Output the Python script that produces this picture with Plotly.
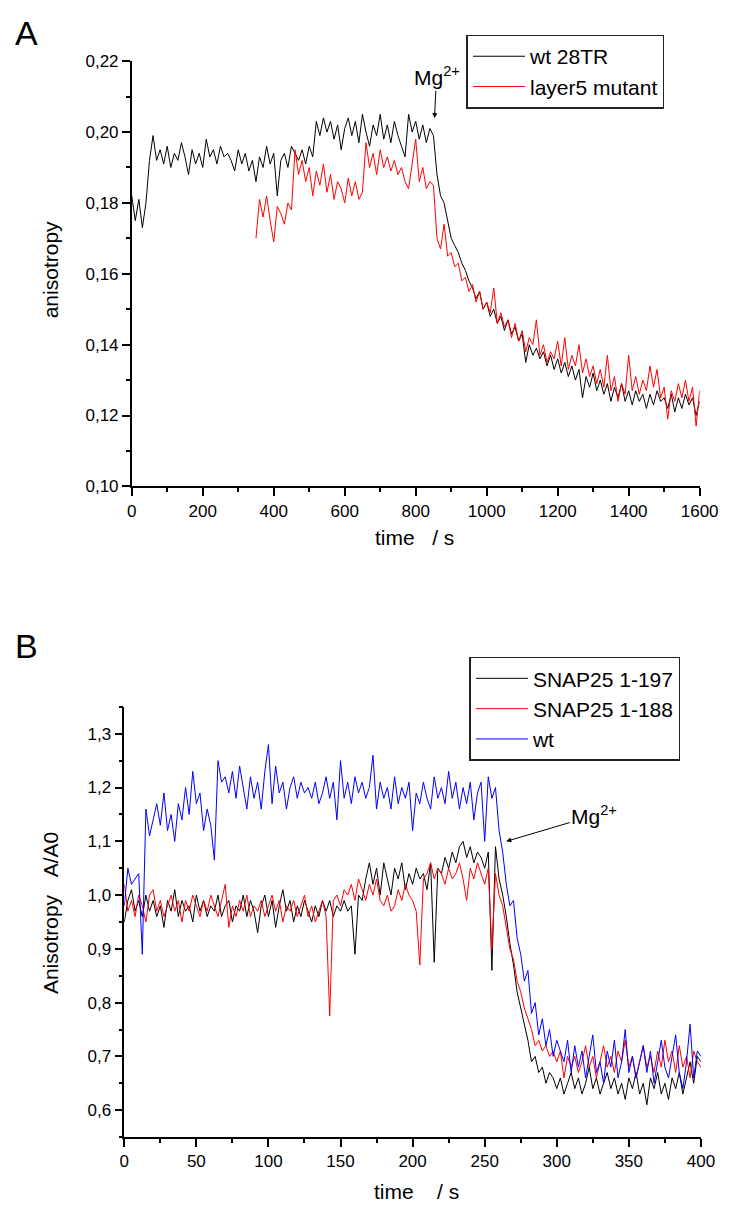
import plotly.graph_objects as go

# ---------------- Panel A data ----------------
a_wt_start = 0
a_wt_step = 10
a_wt = [0.182, 0.175, 0.181, 0.173, 0.180, 0.192, 0.199, 0.192, 0.195, 0.191,
        0.196, 0.190, 0.194, 0.192, 0.197, 0.193, 0.188, 0.195, 0.191, 0.194,
        0.190, 0.198, 0.193, 0.195, 0.191, 0.196, 0.193, 0.194, 0.192, 0.189,
        0.195, 0.191, 0.194, 0.189, 0.192, 0.186, 0.193, 0.190, 0.196, 0.191,
        0.194, 0.182, 0.192, 0.194, 0.190, 0.196, 0.194, 0.192, 0.195, 0.191,
        0.196, 0.193, 0.203, 0.199, 0.204, 0.200, 0.203, 0.198, 0.202, 0.195,
        0.201, 0.204, 0.199, 0.203, 0.197, 0.205, 0.200, 0.196, 0.202, 0.199,
        0.205, 0.198, 0.202, 0.197, 0.203, 0.199, 0.196, 0.193, 0.205, 0.200,
        0.203, 0.198, 0.202, 0.197, 0.201, 0.199, 0.188, 0.182, 0.180, 0.175,
        0.170, 0.168, 0.166, 0.163, 0.161, 0.158, 0.156, 0.153, 0.155, 0.150,
        0.152, 0.148, 0.150, 0.146, 0.148, 0.144, 0.147, 0.143, 0.145, 0.141,
        0.143, 0.135, 0.140, 0.137, 0.139, 0.136, 0.138, 0.134, 0.137, 0.133,
        0.136, 0.132, 0.135, 0.131, 0.134, 0.130, 0.133, 0.125, 0.131, 0.128,
        0.132, 0.127, 0.130, 0.126, 0.129, 0.124, 0.128, 0.125, 0.129, 0.124,
        0.127, 0.123, 0.127, 0.124, 0.126, 0.122, 0.126, 0.123, 0.127, 0.124,
        0.125, 0.122, 0.126, 0.121, 0.125, 0.122, 0.126, 0.123, 0.125, 0.120,
        0.124]

a_mut_start = 350
a_mut_step = 10
a_mut = [0.170, 0.181, 0.176, 0.182, 0.175, 0.169, 0.179, 0.177, 0.174, 0.180,
         0.178, 0.195, 0.188, 0.192, 0.186, 0.190, 0.182, 0.189, 0.185, 0.191,
         0.183, 0.188, 0.181, 0.186, 0.184, 0.180, 0.187, 0.182, 0.186, 0.181,
         0.183, 0.197, 0.190, 0.194, 0.188, 0.195, 0.190, 0.193, 0.189, 0.192,
         0.188, 0.190, 0.186, 0.184, 0.191, 0.198, 0.186, 0.190, 0.184, 0.186,
         0.185, 0.170, 0.167, 0.174, 0.165, 0.166, 0.162, 0.163, 0.158, 0.159,
         0.155, 0.157, 0.152, 0.155, 0.150, 0.152, 0.149, 0.156, 0.146, 0.149,
         0.145, 0.147, 0.142, 0.146, 0.141, 0.144, 0.138, 0.142, 0.140, 0.147,
         0.137, 0.140, 0.135, 0.138, 0.136, 0.141, 0.134, 0.142, 0.133, 0.137,
         0.134, 0.140, 0.132, 0.136, 0.131, 0.134, 0.129, 0.133, 0.128, 0.137,
         0.127, 0.131, 0.124, 0.129, 0.126, 0.137, 0.127, 0.131, 0.126, 0.130,
         0.127, 0.134, 0.128, 0.133, 0.125, 0.128, 0.119, 0.127, 0.124, 0.129,
         0.125, 0.130, 0.124, 0.128, 0.117, 0.127]

# ---------------- Panel B data ----------------
b_step = 2.5
b_197 = [0.95, 0.99, 1.01, 0.97, 0.99, 0.96, 1.00, 0.97, 0.99, 0.96,
         0.98, 0.94, 0.99, 0.97, 1.01, 0.96, 0.99, 0.97, 0.98, 0.95,
         1.00, 0.97, 0.99, 0.96, 0.98, 0.97, 1.00, 0.96, 0.98, 0.99,
         0.95, 0.98, 0.97, 1.00, 0.96, 0.99, 0.97, 0.93, 0.98, 1.00,
         0.96, 0.99, 0.94, 0.98, 1.01, 0.97, 0.99, 0.95, 0.98, 0.96,
         0.99, 0.97, 0.95, 0.98, 0.96, 0.99, 0.97, 0.99, 0.96, 0.98,
         0.97, 0.99, 0.97, 0.98, 0.89, 1.00, 0.99, 1.03, 1.06, 1.02,
         1.05, 1.00, 1.06, 1.03, 1.00, 1.05, 1.03, 1.06, 1.01, 1.04,
         1.02, 1.05, 1.03, 1.04, 1.01, 1.06, 0.875, 1.05, 1.04, 1.07,
         1.05, 1.08, 1.06, 1.09, 1.10, 1.07, 1.09, 1.06, 1.08, 1.07,
         1.05, 1.08, 0.86, 1.09, 1.03, 1.00, 0.96, 0.91, 0.87, 0.82,
         0.79, 0.76, 0.73, 0.69, 0.70, 0.67, 0.68, 0.65, 0.67, 0.66,
         0.64, 0.66, 0.63, 0.65, 0.67, 0.64, 0.66, 0.63, 0.65, 0.68,
         0.64, 0.66, 0.63, 0.65, 0.67, 0.64, 0.66, 0.63, 0.65, 0.62,
         0.66, 0.64, 0.67, 0.63, 0.65, 0.61, 0.66, 0.64, 0.67, 0.63,
         0.65, 0.62, 0.66, 0.64, 0.67, 0.63, 0.66, 0.69, 0.65, 0.70,
         0.69]
b_188 = [1.02, 0.97, 0.99, 0.96, 1.00, 0.98, 0.95, 1.00, 1.01, 0.97,
         0.99, 0.96, 0.98, 1.00, 0.97, 0.99, 0.95, 0.99, 0.97, 1.00,
         0.98, 0.96, 0.99, 0.97, 1.00, 0.98, 0.96, 0.99, 1.02, 0.94,
         0.98, 0.96, 0.99, 0.97, 1.00, 0.96, 0.98, 0.97, 0.99, 0.96,
         0.98, 1.00, 0.97, 0.99, 0.95, 0.98, 0.97, 0.99, 0.96, 0.98,
         1.00, 0.96, 0.98, 0.95, 0.97, 0.99, 0.96, 0.775, 0.99, 1.00,
         0.98, 1.01, 1.00, 1.02, 0.99, 1.03, 1.01, 0.99, 1.02, 1.00,
         1.03, 0.99, 0.98, 1.00, 0.97, 0.98, 1.01, 0.99, 1.02, 1.00,
         0.99, 0.97, 0.87, 1.03, 1.04, 1.06, 1.03, 1.05, 1.04, 1.02,
         1.05, 1.03, 1.04, 1.06, 1.03, 0.99, 1.05, 1.03, 1.06, 1.04,
         1.02, 1.05, 0.90, 1.04, 1.00, 0.98, 0.94, 0.90, 0.88, 0.84,
         0.82, 0.79, 0.77, 0.75, 0.72, 0.73, 0.71, 0.72, 0.70, 0.71,
         0.69, 0.71, 0.66, 0.70, 0.68, 0.70, 0.67, 0.69, 0.72, 0.68,
         0.70, 0.66, 0.69, 0.72, 0.68, 0.70, 0.67, 0.71, 0.69, 0.73,
         0.68, 0.70, 0.66, 0.69, 0.72, 0.68, 0.70, 0.67, 0.71, 0.68,
         0.73, 0.69, 0.71, 0.67, 0.72, 0.68, 0.70, 0.66, 0.71, 0.69,
         0.68]
b_wt = [0.98, 1.05, 1.02, 1.03, 1.04, 0.89, 1.16, 1.11, 1.14, 1.17,
        1.13, 1.19, 1.12, 1.15, 1.10, 1.17, 1.14, 1.20, 1.15, 1.23,
        1.17, 1.19, 1.12, 1.16, 1.13, 1.065, 1.25, 1.21, 1.22, 1.19,
        1.23, 1.18, 1.24, 1.20, 1.16, 1.22, 1.18, 1.21, 1.16, 1.23,
        1.28, 1.17, 1.24, 1.19, 1.21, 1.16, 1.20, 1.22, 1.18, 1.21,
        1.19, 1.20, 1.18, 1.21, 1.17, 1.19, 1.22, 1.18, 1.21, 1.14,
        1.25, 1.18, 1.21, 1.17, 1.22, 1.19, 1.21, 1.18, 1.20, 1.26,
        1.16, 1.21, 1.18, 1.20, 1.16, 1.22, 1.17, 1.20, 1.18, 1.21,
        1.12, 1.19, 1.17, 1.21, 1.18, 1.16, 1.22, 1.18, 1.20, 1.17,
        1.23, 1.18, 1.21, 1.16, 1.20, 1.17, 1.21, 1.14, 1.19, 1.21,
        1.10, 1.22, 1.18, 1.20, 1.12, 1.08, 1.02, 0.98, 0.99, 0.92,
        0.89, 0.84, 0.86, 0.78, 0.80, 0.74, 0.77, 0.72, 0.75, 0.70,
        0.73, 0.71, 0.69, 0.73, 0.67, 0.72, 0.68, 0.71, 0.66, 0.70,
        0.74, 0.67, 0.69, 0.65, 0.71, 0.68, 0.73, 0.66, 0.69, 0.75,
        0.67, 0.70, 0.66, 0.69, 0.72, 0.67, 0.71, 0.65, 0.69, 0.73,
        0.68, 0.66, 0.70, 0.74, 0.67, 0.64, 0.69, 0.76, 0.66, 0.71,
        0.70]

a_x = [a_wt_start + a_wt_step * i for i in range(len(a_wt))]
a_mx = [a_mut_start + a_mut_step * i for i in range(len(a_mut))]
b_x197 = [b_step * i for i in range(len(b_197))]
b_x188 = [b_step * i for i in range(len(b_188))]
b_xwt = [b_step * i for i in range(len(b_wt))]

FONT = "Arial, Liberation Sans, sans-serif"
W, H = 738, 1213

fig = go.Figure()
fig.add_trace(go.Scatter(x=a_x, y=a_wt, mode="lines", name="wt 28TR",
                         line=dict(color="black", width=1), xaxis="x", yaxis="y", legend="legend"))
fig.add_trace(go.Scatter(x=a_mx, y=a_mut, mode="lines", name="layer5 mutant",
                         line=dict(color="#ff0000", width=1), xaxis="x", yaxis="y", legend="legend"))
fig.add_trace(go.Scatter(x=b_x197, y=b_197, mode="lines", name="SNAP25 1-197",
                         line=dict(color="black", width=1), xaxis="x2", yaxis="y2", legend="legend2"))
fig.add_trace(go.Scatter(x=b_x188, y=b_188, mode="lines", name="SNAP25 1-188",
                         line=dict(color="#ff0000", width=1), xaxis="x2", yaxis="y2", legend="legend2"))
fig.add_trace(go.Scatter(x=b_xwt, y=b_wt, mode="lines", name="wt",
                         line=dict(color="#0000ff", width=1), xaxis="x2", yaxis="y2", legend="legend2"))

def px_x(p):
    return p / W

def px_y(p):
    return 1 - p / H

axis_common = dict(showline=True, linecolor="black", linewidth=1.5, ticks="outside",
                   ticklen=8, tickwidth=1.5, tickcolor="black", showgrid=False,
                   zeroline=False, mirror=False,
                   tickfont=dict(family=FONT, size=17, color="black"))

legend_common = dict(xanchor="left", yanchor="top", bordercolor="#222", borderwidth=1.5,
                     bgcolor="white", itemwidth=52,
                     font=dict(family=FONT, size=21, color="black"))

fig.update_layout(
    width=W, height=H, margin=dict(l=0, r=0, t=0, b=0),
    paper_bgcolor="white", plot_bgcolor="white",
    separators=", ",
    font=dict(family=FONT, color="black"),
    xaxis=dict(domain=[px_x(131), px_x(718)], range=[0, 1600], anchor="y",
               tick0=0, dtick=200,
               minor=dict(ticks="outside", ticklen=4, dtick=100, tickcolor="black", tickwidth=1.5),
               **axis_common),
    yaxis=dict(domain=[px_y(485), px_y(53)], range=[0.10, 0.22], anchor="x",
               tick0=0.10, dtick=0.02, tickformat=".2f",
               minor=dict(ticks="outside", ticklen=4, dtick=0.01, tickcolor="black", tickwidth=1.5),
               **axis_common),
    xaxis2=dict(domain=[px_x(123.3), px_x(719.3)], range=[0, 400], anchor="y2",
                tick0=0, dtick=50,
                minor=dict(ticks="outside", ticklen=4, dtick=25, tickcolor="black", tickwidth=1.5),
                **axis_common),
    yaxis2=dict(domain=[px_y(1146), px_y(709)], range=[0.55, 1.35], anchor="x2",
                tick0=0.6, dtick=0.1, tickformat=".1f",
                minor=dict(ticks="outside", ticklen=4, tick0=0.55, dtick=0.05, tickcolor="black", tickwidth=1.5),
                **axis_common),
    legend=dict(x=px_x(477), y=px_y(26), **legend_common),
    legend2=dict(x=px_x(480), y=px_y(658), **legend_common),
    showlegend=True,
)

def label(text, xp, yp, size=21, angle=0):
    return dict(text=text, x=px_x(xp), y=px_y(yp), xref="paper", yref="paper",
                xanchor="center", yanchor="middle", showarrow=False, textangle=angle,
                font=dict(size=size, family=FONT, color="black"))

ann = [
    label("A", 22, 24, size=34),
    label("B", 22, 647, size=34),
    label("time\u00a0\u00a0\u00a0/ s", 423, 537),
    label("anisotropy", 47, 265, angle=-90),
    label("time\u00a0\u00a0\u00a0\u00a0/ s", 425, 1201),
    label("Anisotropy\u00a0\u00a0\u00a0A/A0", 47, 918, angle=-90),
]
# Mg2+ arrows
ann.append(dict(text="Mg<sup>2+</sup>", x=853, y=0.2039, xref="x", yref="y",
                showarrow=True, arrowhead=2, arrowsize=1, arrowwidth=1, arrowcolor="black",
                ax=2, ay=-42, font=dict(size=21, family=FONT, color="black")))
ann.append(dict(text="Mg<sup>2+</sup>", x=265, y=1.100, xref="x2", yref="y2",
                showarrow=True, arrowhead=2, arrowsize=1, arrowwidth=1, arrowcolor="black",
                ax=88, ay=-26, font=dict(size=21, family=FONT, color="black")))
fig.update_layout(annotations=ann)

fig.write_html("out.html")
